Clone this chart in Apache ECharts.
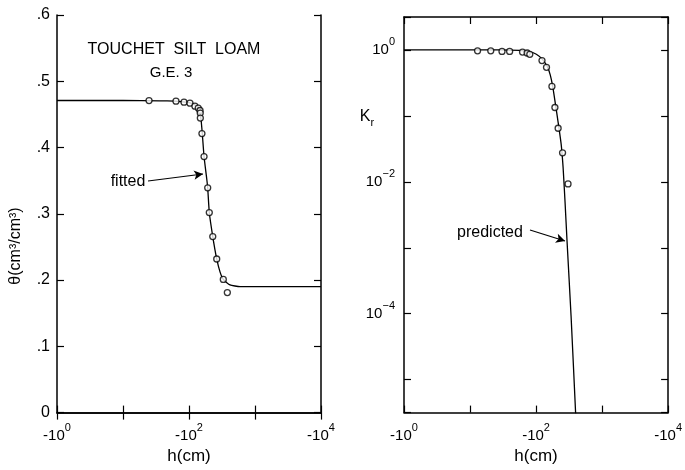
<!DOCTYPE html>
<html>
<head>
<meta charset="utf-8">
<script src="https://cdn.jsdelivr.net/npm/echarts@6/dist/echarts.min.js"></script>
<style>html,body{margin:0;padding:0;background:#fff;}#c{width:685px;height:470px;}</style>
</head>
<body>
<div id="c"></div>
<script>
// Left panel: water content theta vs |h| (cm)
const thetaObsH = [24.8, 63.5, 84, 103.5, 123, 138, 147, 148, 148.5, 157, 169, 192, 203, 229, 263, 331, 381];
const thetaObs  = [0.4708, 0.4699, 0.4684, 0.4669, 0.4624, 0.4595, 0.4559, 0.452, 0.4445, 0.4211, 0.3864, 0.3392, 0.3019, 0.2657, 0.2318, 0.2010, 0.1811];
const thetaFitH = [1, 10, 36, 60, 80, 103.5, 128, 143, 148, 153.5, 159, 169, 185, 192, 203, 229, 263, 295, 331, 418, 593, 1000, 10000];
const thetaFit  = [0.471, 0.471, 0.4705, 0.470, 0.469, 0.4674, 0.4633, 0.4584, 0.451, 0.4386, 0.4211, 0.3864, 0.354, 0.3392, 0.3019, 0.2657, 0.2318, 0.2124, 0.2010, 0.1926, 0.1901, 0.1900, 0.1900];
// Right panel: relative conductivity Kr vs |h| (cm)
const krObsH = [13, 20.6, 30.5, 39.8, 62.4, 73.3, 80.4, 123, 144, 174, 193, 216, 252, 305];
const krObs  = [0.97, 0.97, 0.95, 0.95, 0.93, 0.90, 0.86, 0.69, 0.545, 0.28, 0.134, 0.065, 0.0275, 0.0093];
const krPredH = [1, 28, 56, 79, 101, 124, 148, 164, 179, 195, 216, 240, 257, 275, 295, 339, 398];
const krPred  = [1, 1, 0.983, 0.94, 0.862, 0.726, 0.56, 0.418, 0.277, 0.159, 0.080, 0.0374, 0.0164, 0.0049, 0.00123, 9.3e-5, 3.0e-6];
// Tick labels
const thetaTicks = [0, 0.1, 0.2, 0.3, 0.4, 0.5, 0.6];
const hLabelExps = [0, 2, 4];
const krLabelExps = [0, -2, -4];

const FONT = 'Liberation Sans';
const zip = (a, b) => a.map((v, i) => [v, b[i]]);
const expOf = v => Math.log10(v);
const isInt = e => Math.abs(e - Math.round(e)) < 0.01;

const supRich = {
  b: { fontSize: 15, fontFamily: FONT, color: '#000', lineHeight: 26 },
  s: { fontSize: 11, fontFamily: FONT, color: '#000', verticalAlign: 'top', lineHeight: 12 }
};
const hFormatter = v => {
  const e = expOf(v);
  if (!isInt(e) || hLabelExps.indexOf(Math.round(e)) < 0) return '';
  return '{b|-10}{s|' + Math.round(e) + '}';
};
const krFormatter = v => {
  const e = expOf(v);
  if (!isInt(e) || krLabelExps.indexOf(Math.round(e)) < 0) return '';
  const r = Math.round(e);
  return '{b|10}{s|' + (r < 0 ? '\u2212' + (-r) : r) + '}';
};
const thetaFormatter = v => {
  if (thetaTicks.indexOf(Math.round(v * 10) / 10) < 0) return '';
  return v === 0 ? '0' : v.toFixed(1).replace(/^0/, '');
};

const axisLine = { show: true, lineStyle: { color: '#000', width: 1.5 } };
const tick = { show: true, inside: true, length: 7, lineStyle: { color: '#000', width: 1.2 } };

function xAxisPair(grid) {
  return [
    { gridIndex: grid, type: 'log', logBase: 10, min: 1, max: 10000, position: 'bottom',
      axisLine, axisTick: tick, splitLine: { show: false }, minorTick: { show: false },
      axisLabel: { formatter: hFormatter, rich: supRich, margin: 10, showMinLabel: true, showMaxLabel: true },
      name: 'h(cm)', nameLocation: 'middle', nameGap: 34,
      nameTextStyle: { fontSize: 17, fontFamily: FONT, color: '#000' } },
    { gridIndex: grid, type: 'log', logBase: 10, min: 1, max: 10000, position: 'top',
      axisLine, axisTick: tick, splitLine: { show: false }, axisLabel: { show: false } }
  ];
}

const option = {
  animation: false,
  backgroundColor: '#fff',
  grid: [
    { left: 57, top: 15, width: 264, height: 402.5 },
    { left: 404, top: 17, width: 266, height: 403 }
  ],
  xAxis: [...xAxisPair(0), ...xAxisPair(1)],
  yAxis: [
    { gridIndex: 0, type: 'value', min: 0, max: 0.6, interval: 0.1, position: 'left',
      axisLine, axisTick: tick, splitLine: { show: false },
      axisLabel: { formatter: thetaFormatter, fontSize: 16, fontFamily: FONT, color: '#000', margin: 7 } },
    { gridIndex: 0, type: 'value', min: 0, max: 0.6, interval: 0.1, position: 'right',
      axisLine, axisTick: tick, splitLine: { show: false }, axisLabel: { show: false } },
    { gridIndex: 1, type: 'log', logBase: 10, min: Math.pow(10, -5.5), max: Math.pow(10, 0.5), position: 'left',
      axisLine, axisTick: tick, splitLine: { show: false }, minorTick: { show: false },
      axisLabel: { formatter: krFormatter, rich: supRich, margin: 9 } },
    { gridIndex: 1, type: 'log', logBase: 10, min: Math.pow(10, -5.5), max: Math.pow(10, 0.5), position: 'right',
      axisLine, axisTick: tick, splitLine: { show: false }, axisLabel: { show: false } }
  ],
  series: [
    { type: 'line', xAxisIndex: 0, yAxisIndex: 0, data: zip(thetaFitH, thetaFit),
      showSymbol: false, symbol: 'none', smooth: 0.15, lineStyle: { color: '#000', width: 1.3 },
      markLine: { silent: true, symbol: ['none', 'arrow'], symbolSize: [7, 9],
        lineStyle: { color: '#000', width: 1.1, type: 'solid' }, label: { show: false },
        data: [[{ x: 148, y: 181 }, { x: 203, y: 174 }]] } },
    { type: 'scatter', xAxisIndex: 0, yAxisIndex: 0, data: zip(thetaObsH, thetaObs),
      symbol: 'circle', symbolSize: 6, itemStyle: { color: '#fff', borderColor: '#000', borderWidth: 1.3 }, z: 3 },
    { type: 'line', xAxisIndex: 2, yAxisIndex: 2, data: zip(krPredH, krPred),
      showSymbol: false, symbol: 'none', smooth: 0.15, lineStyle: { color: '#000', width: 1.3 },
      markLine: { silent: true, symbol: ['none', 'arrow'], symbolSize: [7, 9],
        lineStyle: { color: '#000', width: 1.1, type: 'solid' }, label: { show: false },
        data: [[{ x: 530, y: 230 }, { x: 565, y: 241 }]] } },
    { type: 'scatter', xAxisIndex: 2, yAxisIndex: 2, data: zip(krObsH, krObs),
      symbol: 'circle', symbolSize: 6, itemStyle: { color: '#fff', borderColor: '#000', borderWidth: 1.3 }, z: 3 }
  ],
  graphic: [
    { type: 'text', x: 174, y: 50, style: { text: 'TOUCHET  SILT  LOAM', font: '16px "' + FONT + '"', fill: '#000', align: 'center', verticalAlign: 'middle' } },
    { type: 'text', x: 171, y: 73, style: { text: 'G.E. 3', font: '15px "' + FONT + '"', fill: '#000', align: 'center', verticalAlign: 'middle' } },
    { type: 'text', x: 128, y: 182, style: { text: 'fitted', font: '16px "' + FONT + '"', fill: '#000', align: 'center', verticalAlign: 'middle' } },
    { type: 'text', x: 490, y: 233, style: { text: 'predicted', font: '16px "' + FONT + '"', fill: '#000', align: 'center', verticalAlign: 'middle' } },
    { type: 'text', x: 16, y: 246, rotation: Math.PI / 2, style: { text: 'θ(cm³/cm³)', font: '16px "' + FONT + '"', fill: '#000', align: 'center', verticalAlign: 'middle' } },
    { type: 'text', x: 367, y: 117, style: { text: '{k|K}{r|r}', rich: { k: { fontSize: 16, fontFamily: FONT, lineHeight: 22, verticalAlign: 'middle' }, r: { fontSize: 11, fontFamily: FONT, verticalAlign: 'bottom', lineHeight: 16 } }, fill: '#000', align: 'center', verticalAlign: 'middle' } }
  ]
};
const chart = echarts.init(document.getElementById('c'));
chart.setOption(option);
</script>
</body>
</html>
